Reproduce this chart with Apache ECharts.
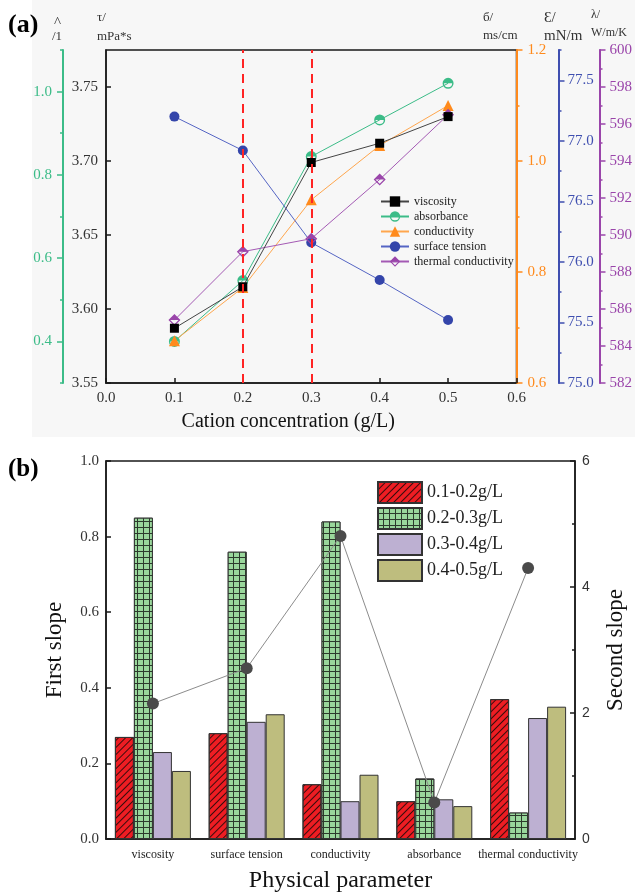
<!DOCTYPE html>
<html>
<head>
<meta charset="utf-8">
<script src="https://cdn.jsdelivr.net/npm/echarts@6.0.0/dist/echarts.min.js"></script>
<style>
  html, body { margin: 0; padding: 0; background: #fff; }
  #chart { width: 635px; height: 895px; }
</style>
</head>
<body>
<div id="chart"></div>
<script>
// ---- panel (a) data ----
const conc = [0.1, 0.2, 0.3, 0.4, 0.5];
const viscosity = [3.587, 3.615, 3.699, 3.712, 3.730];
const absorbance = [0.40, 0.546, 0.844, 0.932, 1.02];
const conductivity = [0.676, 0.772, 0.930, 1.028, 1.100];
const surfaceTension = [77.20, 76.92, 76.16, 75.85, 75.52];
const thermalCond = [585.4, 589.1, 589.8, 593.0, 596.5];
const dividers = [0.2, 0.3];

// tick labels of the five y axes in (a)
const tauTicks = [3.55, 3.60, 3.65, 3.70, 3.75];
const absTicks = [0.4, 0.6, 0.8, 1.0];
const absMinor = [0.3, 0.5, 0.7, 0.9, 1.1];
const condTicks = [0.6, 0.8, 1.0, 1.2];
const condMinor = [0.7, 0.9, 1.1];
const stTicks = [75.0, 75.5, 76.0, 76.5, 77.0, 77.5];
const stMinor = [75.25, 75.75, 76.25, 76.75, 77.25, 77.75];
const tcTicks = [582, 584, 586, 588, 590, 592, 594, 596, 598, 600];
const tcMinor = [583, 585, 587, 589, 591, 593, 595, 597, 599];

// ---- panel (b) data ----
const params = ['viscosity', 'surface tension', 'conductivity', 'absorbance', 'thermal conductivity'];
const ranges = ['0.1-0.2g/L', '0.2-0.3g/L', '0.3-0.4g/L', '0.4-0.5g/L'];
const slope12 = [0.27, 0.28, 0.145, 0.10, 0.37];
const slope23 = [0.85, 0.76, 0.84, 0.16, 0.07];
const slope34 = [0.23, 0.31, 0.10, 0.105, 0.32];
const slope45 = [0.18, 0.33, 0.17, 0.087, 0.35];
const secondSlope = [2.15, 2.71, 4.81, 0.58, 4.30];

const SERIF = '"Liberation Serif", "DejaVu Serif", serif';
const GREEN = '#3cbc88', ORANGE = '#ff8a1c', BLUE = '#3f4fb0', PURPLE = '#9a45aa';

// half filled symbols (top half solid, bottom half hollow)
const halfCircle = 'path://M-10,0A10,10,0,0,1,10,0A10,10,0,0,1,-10,0ZM-7.4,0A7.4,7.4,0,0,0,7.4,0Z';
const halfDiamond = 'path://M0,-10L10,0L0,10L-10,0ZM-7,0L0,7L7,0Z';

const pairs = (ys) => conc.map((x, i) => [x, ys[i]]);

// one side axis of panel (a): main ticks + labels
function sideAxis(pos, offset, color, min, max, ticks, digits, inside, margin) {
    return {
        type: 'value', gridIndex: 0, position: pos, offset: offset, min: min, max: max,
        axisLine: { show: true, lineStyle: { color: color, width: 2 } },
        axisTick: { show: true, inside: inside, length: 6, customValues: ticks, lineStyle: { color: color, width: 1.5 } },
        axisLabel: {
            show: true, customValues: ticks, color: color, margin: margin,
            fontFamily: SERIF, fontSize: 15,
            formatter: v => Number(v).toFixed(digits)
        },
        splitLine: { show: false }
    };
}
// helper axis that only draws the short minor ticks
function minorAxis(pos, offset, color, min, max, ticks) {
    return {
        type: 'value', gridIndex: 0, position: pos, offset: offset, min: min, max: max,
        axisLine: { show: false },
        axisTick: { show: true, inside: false, length: 3, customValues: ticks, lineStyle: { color: color, width: 1.5 } },
        axisLabel: { show: false },
        splitLine: { show: false }
    };
}

var chart = echarts.init(document.getElementById('chart'), null, { renderer: 'canvas' });

var option = {
    animation: false,
    backgroundColor: '#ffffff',
    textStyle: { fontFamily: SERIF },
    graphic: [
        { type: 'rect', z: -10, shape: { x: 32, y: 0, width: 603, height: 437 }, style: { fill: '#f7f7f7' } },
        { type: 'text', x: 8, y: 25, style: { text: '(a)', font: 'bold 26px ' + SERIF, fill: '#000', verticalAlign: 'middle' } },
        { type: 'text', x: 8, y: 470, style: { text: '(b)', font: 'bold 25px ' + SERIF, fill: '#000', verticalAlign: 'middle' } },
        { type: 'text', x: 54, y: 23, style: { text: '^', font: '15px ' + SERIF, fill: '#333', verticalAlign: 'middle' } },
        { type: 'text', x: 52, y: 37, style: { text: '/1', font: '13px ' + SERIF, fill: '#333', verticalAlign: 'middle' } },
        { type: 'text', x: 97, y: 18, style: { text: 'τ/', font: '13px ' + SERIF, fill: '#333', verticalAlign: 'middle' } },
        { type: 'text', x: 97, y: 37, style: { text: 'mPa*s', font: '13px ' + SERIF, fill: '#333', verticalAlign: 'middle' } },
        { type: 'text', x: 483, y: 18, style: { text: 'б/', font: '13px ' + SERIF, fill: '#333', verticalAlign: 'middle' } },
        { type: 'text', x: 483, y: 36, style: { text: 'ms/cm', font: '13px ' + SERIF, fill: '#333', verticalAlign: 'middle' } },
        { type: 'text', x: 544, y: 18, style: { text: 'Ɛ/', font: '15px ' + SERIF, fill: '#333', verticalAlign: 'middle' } },
        { type: 'text', x: 544, y: 36, style: { text: 'mN/m', font: '15px ' + SERIF, fill: '#333', verticalAlign: 'middle' } },
        { type: 'text', x: 591, y: 15, style: { text: 'λ/', font: '12px ' + SERIF, fill: '#333', verticalAlign: 'middle' } },
        { type: 'text', x: 591, y: 33, style: { text: 'W/m/K', font: '12px ' + SERIF, fill: '#333', verticalAlign: 'middle' } }
    ],
    grid: [
        { left: 106, top: 50, width: 413, height: 333, show: true, borderColor: '#1a1a1a', borderWidth: 1.5, backgroundColor: 'transparent' },
        { left: 106, top: 461, width: 470, height: 378, show: true, borderColor: '#1a1a1a', borderWidth: 1.5, backgroundColor: 'transparent' }
    ],
    legend: [
        {
            orient: 'vertical', left: 380, top: 195, padding: 0,
            itemWidth: 28, itemHeight: 13, itemGap: 2,
            data: ['viscosity', 'absorbance', 'conductivity', 'surface tension', 'thermal conductivity'],
            textStyle: { fontFamily: SERIF, fontSize: 12, lineHeight: 13, color: '#222' }
        },
        {
            orient: 'vertical', left: 377, top: 481, padding: 0,
            itemWidth: 44, itemHeight: 21, itemGap: 3,
            icon: 'rect', data: ranges,
            textStyle: { fontFamily: SERIF, fontSize: 18, lineHeight: 21, color: '#222' }
        }
    ],
    xAxis: [
        {
            type: 'value', gridIndex: 0, min: 0, max: 0.6, interval: 0.1,
            axisLine: { show: true, lineStyle: { color: '#1a1a1a', width: 1.5 } },
            axisTick: { show: true, inside: true, length: 5, lineStyle: { color: '#1a1a1a', width: 1.5 } },
            axisLabel: { color: '#333', fontFamily: SERIF, fontSize: 15, margin: 8, formatter: v => v.toFixed(1) },
            splitLine: { show: false },
            name: 'Cation concentration (g/L)', nameLocation: 'middle', nameGap: 29,
            nameTextStyle: { fontFamily: SERIF, fontSize: 20, color: '#111', padding: [0, 46, 0, 0] }
        },
        {
            type: 'category', gridIndex: 1, data: params,
            axisLine: { show: true, lineStyle: { color: '#1a1a1a', width: 1.5 } },
            axisTick: { show: false },
            axisLabel: { color: '#222', fontFamily: SERIF, fontSize: 12, margin: 10, interval: 0 },
            name: 'Physical parameter', nameLocation: 'middle', nameGap: 30,
            nameTextStyle: { fontFamily: SERIF, fontSize: 24, color: '#111' }
        }
    ],
    yAxis: [
        // 0: viscosity (black, inside ticks)
        {
            type: 'value', gridIndex: 0, position: 'left', min: 3.55, max: 3.775,
            axisLine: { show: true, lineStyle: { color: '#1a1a1a', width: 1.5 } },
            axisTick: { show: true, inside: true, length: 5, customValues: tauTicks, lineStyle: { color: '#1a1a1a', width: 1.5 } },
            axisLabel: { customValues: tauTicks, color: '#333', fontFamily: SERIF, fontSize: 15, margin: 8, formatter: v => Number(v).toFixed(2) },
            splitLine: { show: false }
        },
        // 1,2: absorbance
        sideAxis('left', 43, GREEN, 0.3, 1.1, absTicks, 1, false, 11),
        minorAxis('left', 43, GREEN, 0.3, 1.1, absMinor),
        // 3,4: conductivity
        sideAxis('right', 0, ORANGE, 0.6, 1.2, condTicks, 1, false, 11),
        minorAxis('right', 0, ORANGE, 0.6, 1.2, condMinor),
        // 5,6: surface tension
        sideAxis('right', 42, BLUE, 75.0, 77.75, stTicks, 1, false, 9),
        minorAxis('right', 42, BLUE, 75.0, 77.75, stMinor),
        // 7,8: thermal conductivity
        sideAxis('right', 83, PURPLE, 582, 600, tcTicks, 0, false, 10),
        minorAxis('right', 83, PURPLE, 582, 600, tcMinor),
        // 9: first slope
        {
            type: 'value', gridIndex: 1, position: 'left', min: 0, max: 1, interval: 0.2,
            axisLine: { show: true, lineStyle: { color: '#1a1a1a', width: 1.5 } },
            axisTick: { show: true, inside: true, length: 5, lineStyle: { color: '#1a1a1a', width: 1.5 } },
            axisLabel: { color: '#333', fontFamily: SERIF, fontSize: 15, margin: 7, formatter: v => v.toFixed(1) },
            splitLine: { show: false },
            name: 'First slope', nameLocation: 'middle', nameGap: 40,
            nameTextStyle: { fontFamily: SERIF, fontSize: 23, color: '#111' }
        },
        // 10: second slope
        {
            type: 'value', gridIndex: 1, position: 'right', min: 0, max: 6, interval: 2,
            axisLine: { show: true, lineStyle: { color: '#1a1a1a', width: 1.5 } },
            axisTick: { show: true, inside: true, length: 5, lineStyle: { color: '#1a1a1a', width: 1.5 } },
            minorTick: { show: true, splitNumber: 2, length: 3, lineStyle: { color: '#1a1a1a', width: 1.5 } },
            axisLabel: { color: '#333', fontFamily: '"Liberation Sans", Arial, sans-serif', fontSize: 14, margin: 7 },
            splitLine: { show: false },
            name: 'Second slope', nameLocation: 'middle', nameGap: 29,
            nameTextStyle: { fontFamily: SERIF, fontSize: 23, color: '#111' }
        }
    ],
    series: [
        {
            name: 'viscosity', type: 'line', xAxisIndex: 0, yAxisIndex: 0, data: pairs(viscosity),
            symbol: 'rect', symbolSize: 9, itemStyle: { color: '#000' },
            lineStyle: { color: '#444', width: 1 }, z: 4,
            markLine: {
                silent: true, symbol: 'none', label: { show: false },
                lineStyle: { color: '#ff2424', width: 2, type: [9, 6] },
                data: dividers.map(v => ({ xAxis: v }))
            }
        },
        {
            name: 'absorbance', type: 'line', xAxisIndex: 0, yAxisIndex: 1, data: pairs(absorbance),
            symbol: halfCircle, symbolSize: 11, itemStyle: { color: GREEN },
            lineStyle: { color: GREEN, width: 1 }, z: 3
        },
        {
            name: 'conductivity', type: 'line', xAxisIndex: 0, yAxisIndex: 3, data: pairs(conductivity),
            symbol: 'triangle', symbolSize: 11, itemStyle: { color: ORANGE },
            lineStyle: { color: '#ffa64d', width: 1 }, z: 3
        },
        {
            name: 'surface tension', type: 'line', xAxisIndex: 0, yAxisIndex: 5, data: pairs(surfaceTension),
            symbol: 'circle', symbolSize: 10, itemStyle: { color: '#3445aa' },
            lineStyle: { color: '#5565c4', width: 1 }, z: 3
        },
        {
            name: 'thermal conductivity', type: 'line', xAxisIndex: 0, yAxisIndex: 7, data: pairs(thermalCond),
            symbol: halfDiamond, symbolSize: 12, itemStyle: { color: PURPLE },
            lineStyle: { color: '#a45ab4', width: 1 }, z: 3
        },
        // panel (b) bars
        {
            name: ranges[0], type: 'bar', xAxisIndex: 1, yAxisIndex: 9, data: slope12,
            barWidth: 19, barGap: '0%',
            itemStyle: {
                color: '#ee1d23', borderColor: '#333', borderWidth: 1,
                decal: { symbol: 'rect', symbolSize: 1, color: '#3a0c0c', dashArrayX: [1, 0], dashArrayY: [1, 4], rotation: -Math.PI / 4 }
            }
        },
        {
            name: ranges[1], type: 'bar', xAxisIndex: 1, yAxisIndex: 9, data: slope23,
            barWidth: 19, barGap: '0%',
            itemStyle: {
                color: '#99d69b', borderColor: '#333', borderWidth: 1,
                decal: { symbol: 'rect', symbolSize: 1, color: '#99d69b', backgroundColor: '#2c3a2c', dashArrayX: [5, 1], dashArrayY: [5, 1], rotation: 0 }
            }
        },
        {
            name: ranges[2], type: 'bar', xAxisIndex: 1, yAxisIndex: 9, data: slope34,
            barWidth: 19, barGap: '0%',
            itemStyle: { color: '#bdb0d2', borderColor: '#333', borderWidth: 1 }
        },
        {
            name: ranges[3], type: 'bar', xAxisIndex: 1, yAxisIndex: 9, data: slope45,
            barWidth: 19, barGap: '0%',
            itemStyle: { color: '#bebd7e', borderColor: '#333', borderWidth: 1 }
        },
        {
            name: 'second slope', type: 'line', xAxisIndex: 1, yAxisIndex: 10, data: secondSlope,
            symbol: 'circle', symbolSize: 12, itemStyle: { color: '#4a4a4a' },
            lineStyle: { color: '#8c8c8c', width: 1 }, z: 6
        }
    ]
};

chart.setOption(option);
</script>
</body>
</html>
